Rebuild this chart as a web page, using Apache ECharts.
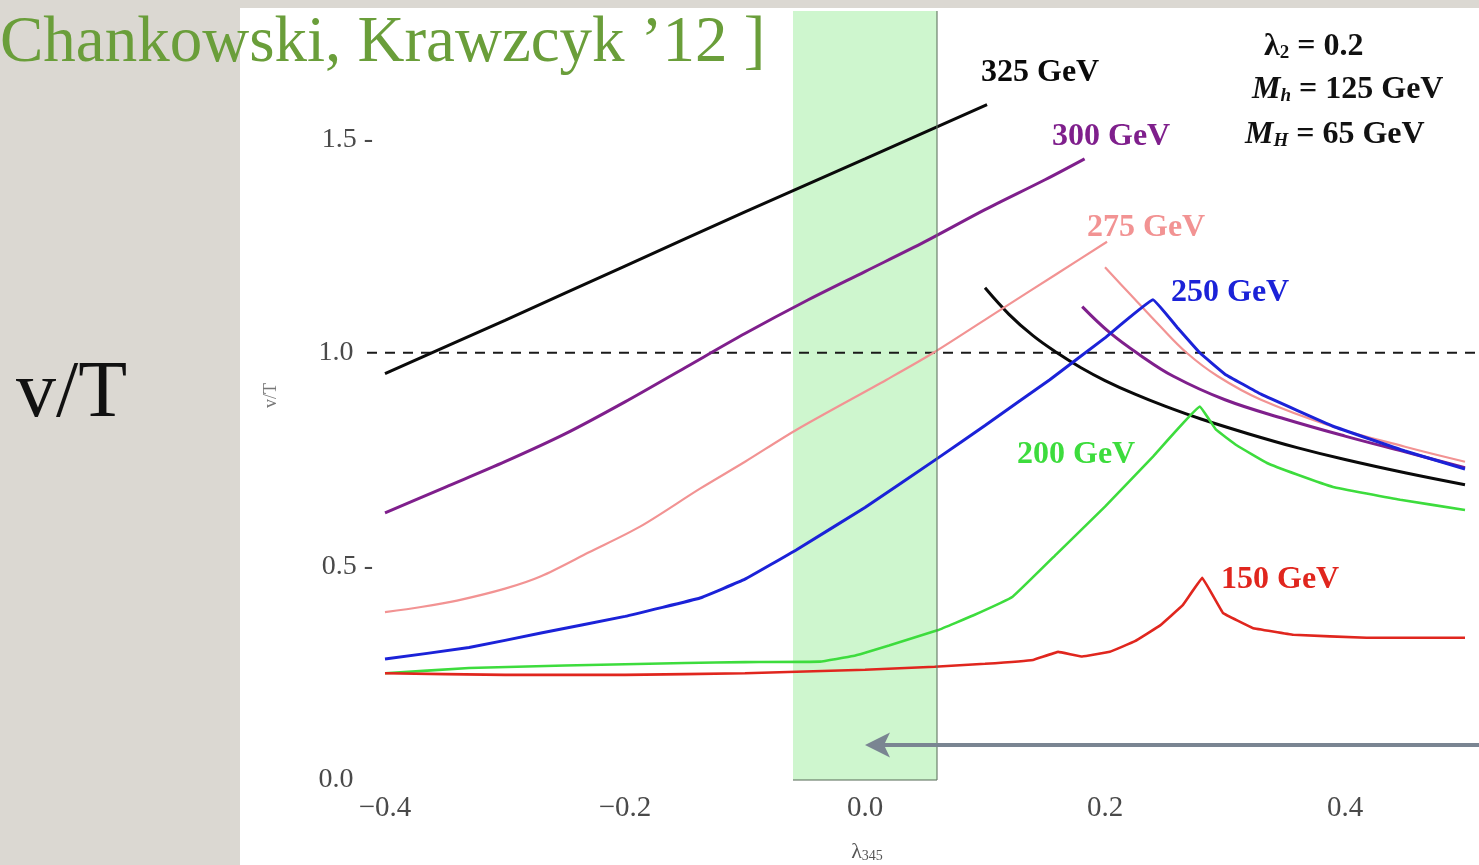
<!DOCTYPE html>
<html><head><meta charset="utf-8">
<script src="https://cdn.jsdelivr.net/npm/echarts@6/dist/echarts.min.js"></script>
<style>html,body{margin:0;padding:0;background:#dbd8d2;overflow:hidden}#c{width:1479px;height:865px}</style>
</head><body><div id="c"></div>
<script>
// ---- data (λ345, v/T) ----
const m325Rise = [[-0.4,0.951],[-0.3,1.076],[-0.2,1.203],[-0.1,1.33],[0,1.454],[0.1017,1.581]];
const m325Fall = [[0.1,1.152],[0.12,1.09],[0.14,1.04],[0.16,1.0],[0.18,0.965],[0.2,0.935],[0.225,0.903],[0.25,0.875],[0.28,0.845],[0.32,0.81],[0.36,0.778],[0.4,0.75],[0.45,0.719],[0.5,0.691]];
const m300Rise = [[-0.4,0.625],[-0.35,0.685],[-0.3,0.745],[-0.25,0.81],[-0.2,0.885],[-0.15,0.965],[-0.1,1.045],[-0.05,1.12],[0,1.19],[0.05,1.26],[0.1,1.335],[0.15,1.405],[0.183,1.454]];
const m300Fall = [[0.181,1.108],[0.204,1.047],[0.229,0.995],[0.257,0.945],[0.3,0.89],[0.35,0.845],[0.4,0.805],[0.45,0.768],[0.5,0.731]];
const m275Rise = [[-0.4,0.393],[-0.37,0.405],[-0.34,0.42],[-0.3,0.448],[-0.27,0.477],[-0.23,0.533],[-0.1875,0.593],[-0.1375,0.682],[-0.1,0.745],[-0.057,0.82],[0.018,0.937],[0.057,1.0],[0.1125,1.1],[0.16,1.185],[0.2017,1.26]];
const m275Fall = [[0.2,1.2],[0.22,1.14],[0.245,1.065],[0.268,1.0],[0.294,0.945],[0.33,0.89],[0.39,0.827],[0.45,0.78],[0.5,0.745]];
const m250 = [[-0.4,0.283],[-0.33,0.31],[-0.27,0.344],[-0.2,0.383],[-0.1375,0.426],[-0.1,0.47],[-0.057,0.539],[0,0.638],[0.061,0.754],[0.1,0.83],[0.154,0.937],[0.2,1.035],[0.24,1.124],[0.26,1.06],[0.279,1.0],[0.3,0.95],[0.33,0.903],[0.39,0.828],[0.45,0.77],[0.5,0.728]];
const m200 = [[-0.4,0.25],[-0.33,0.262],[-0.25,0.268],[-0.15,0.274],[-0.1,0.276],[-0.0375,0.277],[-0.01,0.29],[0.02,0.315],[0.061,0.351],[0.09,0.385],[0.123,0.429],[0.16,0.53],[0.2,0.64],[0.24,0.757],[0.279,0.874],[0.2925,0.82],[0.31,0.783],[0.335,0.742],[0.36,0.715],[0.39,0.686],[0.446,0.656],[0.5,0.632]];
const m150 = [[-0.4,0.25],[-0.3,0.246],[-0.2,0.246],[-0.1,0.25],[0,0.258],[0.058,0.265],[0.1,0.272],[0.14,0.281],[0.161,0.3],[0.181,0.289],[0.204,0.3],[0.225,0.325],[0.246,0.362],[0.265,0.41],[0.281,0.473],[0.2983,0.391],[0.323,0.356],[0.357,0.34],[0.418,0.333],[0.5,0.333]];
const bandX = [-0.06, 0.06];
const refLine = 1.0;
const refLineX = [-0.415, 0.512];
const arrowX = [0.512, 0.0];
const arrowY = 0.082;
const yDashTicks = [0.5, 1.5];
const massLabels = ['325 GeV','300 GeV','275 GeV','250 GeV','200 GeV','150 GeV'];

const SERIF = '"Liberation Serif","Times New Roman",serif';
const C = {k:'#0a0a0a', p:'#7f1f8c', s:'#f29393', b:'#1b22d8', g:'#3ddc3d', r:'#e0261e'};

function ln(data, color, width, smooth){
  return {type:'line', data, symbol:'none', showSymbol:false, smooth:smooth||false,
    lineStyle:{color, width}, itemStyle:{color}, z:3, animation:false, silent:true, clip:false};
}

const chart = echarts.init(document.getElementById('c'));
const option = {
  animation:false,
  backgroundColor:'#dbd8d2',
  grid:{left:385, right:14, top:11, bottom:85, containLabel:false},
  xAxis:{type:'value', min:-0.4, max:0.5, interval:0.2,
    axisLine:{show:false}, axisTick:{show:false}, splitLine:{show:false},
    axisLabel:{showMaxLabel:false, margin:14, color:'#4a4a4a', fontFamily:SERIF, fontSize:29,
      formatter:v=> (v<0?'\u2212':'') + Math.abs(v).toFixed(1)}},
  yAxis:{type:'value', min:0, max:1.8, interval:0.5,
    name:'v/T', nameLocation:'middle', nameGap:105, nameRotate:90,
    nameTextStyle:{color:'#777', fontFamily:SERIF, fontSize:18},
    axisLine:{show:false}, axisTick:{show:false}, splitLine:{show:false},
    axisLabel:{showMaxLabel:false, margin:12, color:'#4a4a4a', fontFamily:SERIF, fontSize:28,
      formatter:v=> v.toFixed(1) + (yDashTicks.includes(v) ? ' -' : '\u2007\u2009')}},
  series:[
    ln(m325Rise, C.k, 3, 0.3), ln(m325Fall, C.k, 3, 0.4),
    ln(m300Rise, C.p, 3, 0.3), ln(m300Fall, C.p, 3, 0.4),
    ln(m275Rise, C.s, 2.2, 0.3), ln(m275Fall, C.s, 2.2, 0.4),
    ln(m250, C.b, 3, 0.07),
    ln(m200, C.g, 2.6, 0.07),
    ln(m150, C.r, 2.6, 0.05),
    {type:'line', data:[], z:8, silent:true,
      markArea:{silent:true, itemStyle:{color:'rgba(120,230,120,0.36)'},
        data:[[{coord:[bandX[0],0]},{coord:[bandX[1],1.8]}]]},
      markLine:{silent:true, symbol:'none', label:{show:false},
        lineStyle:{color:'rgba(100,120,100,0.75)', width:1.5, type:'solid'},
        data:[[{coord:[bandX[1],0]},{coord:[bandX[1],1.8]}],[{coord:[bandX[0],0]},{coord:[bandX[1],0]}]]}}
  ]
};
chart.setOption(option);

const pA = chart.convertToPixel({gridIndex:0}, [arrowX[0], arrowY]);
const pB = chart.convertToPixel({gridIndex:0}, [arrowX[1], arrowY]);
const rA = chart.convertToPixel({gridIndex:0}, [refLineX[0], refLine]);
const rB = chart.convertToPixel({gridIndex:0}, [refLineX[1], refLine]);
const LF = 'bold 32px '+SERIF;
const lab = (text, x, y, color) => ({type:'text', z:20, style:{text, x, y, fill:color, font:LF, textVerticalAlign:'middle'}});
const richP = {i:{font:'italic bold 32px '+SERIF, fill:'#111'}, a:{font:LF, fill:'#111'}, s:{font:'italic bold 19px '+SERIF, fill:'#111', padding:[13,0,0,0]}, t:{font:'bold 19px '+SERIF, fill:'#111', padding:[13,0,0,0]}};
chart.setOption({graphic:[
  {type:'rect', z:-10, shape:{x:240, y:8, width:1239, height:857}, style:{fill:'#ffffff'}},
  {type:'line', z:1, shape:{x1:rA[0], y1:rA[1], x2:rB[0], y2:rB[1]}, style:{stroke:'#1a1a1a', lineWidth:2, lineDash:[10,8]}},
  {type:'text', z:30, style:{text:'Chankowski, Krawzcyk \u201912 ]', x:0, y:44, fill:'#6a9e3a',
    font:'65px '+SERIF, textVerticalAlign:'middle'}},
  {type:'text', z:30, style:{text:'v/T', x:16, y:395, fill:'#111', font:'80px '+SERIF, textVerticalAlign:'middle'}},
  lab(massLabels[0], 981, 73, C.k),
  lab(massLabels[1], 1052, 137, C.p),
  lab(massLabels[2], 1087, 228, C.s),
  lab(massLabels[3], 1171, 293, C.b),
  lab(massLabels[4], 1017, 455, C.g),
  lab(massLabels[5], 1221, 580, C.r),
  {type:'text', z:20, style:{x:1264, y:47, textVerticalAlign:'middle',
    text:'{a|\u03bb}{t|2}{a| = 0.2}', rich:richP}},
  {type:'text', z:20, style:{x:1252, y:90, textVerticalAlign:'middle',
    text:'{i|M}{s|h}{a| = 125 GeV}', rich:richP}},
  {type:'text', z:20, style:{x:1245, y:135, textVerticalAlign:'middle',
    text:'{i|M}{s|H}{a| = 65 GeV}', rich:richP}},
  {type:'text', z:20, style:{x:867, y:852, textAlign:'center', textVerticalAlign:'middle',
    text:'{a|\u03bb}{s|345}',
    rich:{a:{font:'22px '+SERIF, fill:'#555'}, s:{font:'14px '+SERIF, fill:'#555', padding:[8,0,0,0]}}}},
  {type:'line', z:25, shape:{x1:pA[0], y1:pA[1], x2:pB[0]+18, y2:pB[1]}, style:{stroke:'#7a8592', lineWidth:4}},
  {type:'polygon', z:25, shape:{points:[[pB[0],pB[1]],[pB[0]+25,pB[1]-12.5],[pB[0]+19,pB[1]],[pB[0]+25,pB[1]+12.5]]}, style:{fill:'#7a8592'}}
]});
</script></body></html>
